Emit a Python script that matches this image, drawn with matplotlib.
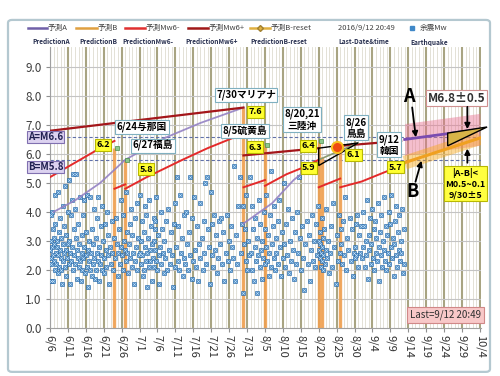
import matplotlib
matplotlib.use('Agg')
import matplotlib.pyplot as plt
from matplotlib.patches import FancyBboxPatch, Polygon
from matplotlib.lines import Line2D
from datetime import date

plt.rcParams['font.family'] = ['Noto Sans CJK JP', 'DejaVu Sans']

# ---------------- data ----------------
tick_labels = ["6/6", "6/11", "6/16", "6/21", "6/26", "7/1", "7/6", "7/11", "7/16", "7/21",
               "7/26", "7/31", "8/5", "8/10", "8/15", "8/20", "8/25", "8/30", "9/4", "9/9",
               "9/14", "9/19", "9/24", "9/29", "10/4"]
y_ticks = [0, 1, 2, 3, 4, 5, 6, 7, 8, 9]

# aftershocks (day-of-month with fraction, Mw)
quakes_jun = [(6.1,2.7),(6.15,3.9),(6.2,2.4),(6.3,1.6),(6.35,3.0),(6.4,2.2),(6.5,4.0),(6.6,2.8),(6.7,3.4),(6.8,2.5),
    (6.9,1.6),(7.0,3.1),(7.1,2.3),(7.2,2.9),(7.3,4.6),(7.4,2.0),(7.5,3.6),(7.6,2.6),(7.8,2.2),(7.9,3.0),
    (8.0,2.8),(8.1,1.9),(8.2,4.7),(8.3,2.5),(8.5,3.3),(8.6,2.1),(8.7,2.7),(8.9,3.8),(9.0,2.4),(9.1,2.0),
    (9.2,3.1),(9.3,1.5),(9.5,2.9),(9.6,4.2),(9.7,2.3),(9.9,2.6),(10.0,3.5),(10.1,2.1),(10.2,4.9),(10.4,2.7),
    (10.5,1.8),(10.6,3.2),(10.8,2.4),(10.9,4.0),(11.0,2.9),(11.2,2.2),(11.3,5.1),(11.4,3.0),(11.5,1.5),(11.7,2.6),
    (11.8,3.9),(12.0,2.3),(12.1,4.4),(12.2,2.8),(12.4,5.3),(12.5,2.0),(12.6,3.4),(12.8,2.5),(13.0,4.1),(13.1,2.2),
    (13.2,5.3),(13.3,3.1),(13.5,2.7),(13.6,1.7),(13.8,2.4),(13.9,3.6),(14.0,2.1),(14.2,2.9),(14.3,4.5),(14.5,2.3),
    (14.6,1.6),(14.8,3.2),(14.9,2.6),(15.0,2.0),(15.2,3.9),(15.3,2.4),(15.5,4.4),(15.6,2.8),(15.8,1.9),(16.0,2.5),
    (16.1,3.3),(16.3,2.1),(16.4,4.6),(16.6,2.7),(16.7,1.4),(16.9,2.3),(17.0,3.0),(17.2,2.0),(17.3,4.5),(17.5,2.6),
    (17.6,1.8),(17.8,3.4),(17.9,2.2),(18.1,2.9),(18.2,4.1),(18.4,2.4),(18.5,1.7),(18.7,3.1),(18.8,2.0),(19.0,2.6),
    (19.1,3.8),(19.3,2.3),(19.5,4.5),(19.6,2.8),(19.8,1.6),(20.0,2.2),(20.1,3.5),(20.3,2.5),(20.4,4.2),(20.6,2.0),
    (20.8,3.0),(21.0,2.4),(21.1,1.9),(21.3,3.6),(21.5,2.7),(21.7,2.1),(21.9,4.0),(22.1,2.5),(22.3,3.2),(22.5,1.5),
    (22.7,2.8),(23.0,2.2),(23.2,3.7),(23.4,2.6),(23.7,2.0),(24.0,3.1),(24.2,2.4),(24.5,3.8),(24.7,2.9),(24.9,1.8),
    (25.1,2.6),(25.3,3.4),(25.5,2.2),(25.7,4.4),(25.9,2.8),(26.1,2.5),(26.3,3.9),(26.5,2.0),(26.7,3.0),(26.9,2.7),
    (27.1,4.7),(27.2,2.3),(27.4,3.3),(27.6,2.6),(27.8,1.9),(28.0,2.9),(28.2,3.6),(28.4,2.4),(28.6,4.1),(28.8,2.1),
    (29.0,3.2),(29.2,2.6),(29.4,1.5),(29.6,3.8),(29.8,2.3),(30.0,2.8),(30.2,4.3),(30.4,2.0),(30.6,3.1),(30.8,2.5)]
quakes_jul = [(1.1,2.6),(1.2,4.6),(1.3,3.0),(1.5,2.2),(1.6,3.7),(1.8,2.5),(1.9,1.8),(2.1,3.3),(2.2,2.0),(2.4,4.2),
    (2.5,2.8),(2.7,2.3),(2.9,3.9),(3.0,1.4),(3.2,2.6),(3.4,3.1),(3.5,2.1),(3.7,4.4),(3.9,2.7),(4.0,2.3),
    (4.2,3.5),(4.4,1.6),(4.5,2.9),(4.7,2.4),(4.9,3.8),(5.0,2.1),(5.1,3.0),(5.2,3.4),(5.3,2.7),(5.4,3.7),
    (5.5,2.3),(5.7,4.5),(5.9,2.0),(6.1,3.2),(6.3,2.5),(6.5,1.5),(6.7,2.8),(6.9,4.0),(7.1,2.2),(7.3,3.4),
    (7.5,2.6),(7.7,1.9),(7.9,3.0),(8.2,2.4),(8.4,3.7),(8.6,2.0),(8.9,4.1),(9.1,2.7),(9.4,2.2),(9.7,3.3),
    (10.0,2.5),(10.3,1.4),(10.5,3.6),(10.8,2.1),(11.0,4.3),(11.2,2.8),(11.4,5.2),(11.6,2.3),(11.8,3.5),(12.1,2.0),
    (12.3,4.6),(12.5,2.6),(12.8,3.1),(13.0,1.8),(13.3,2.4),(13.5,3.9),(13.8,2.2),(14.0,4.0),(14.3,2.9),(14.6,2.0),
    (14.8,3.3),(15.0,5.2),(15.2,2.5),(15.5,1.7),(15.7,3.8),(16.0,2.3),(16.2,4.5),(16.5,2.7),(16.8,2.1),(17.0,3.5),
    (17.3,1.6),(17.5,2.9),(17.8,4.3),(18.0,2.4),(18.3,3.1),(18.6,2.0),(18.9,3.7),(19.1,2.6),(19.4,5.0),(19.6,2.2),
    (19.9,5.2),(20.1,3.4),(20.3,2.8),(20.6,1.5),(20.8,4.7),(21.1,2.5),(21.3,3.6),(21.6,2.1),(21.9,3.9),(22.1,2.7),
    (22.4,3.2),(22.7,1.9),(23.0,2.4),(23.3,3.7),(23.5,2.9),(23.8,3.8),(24.1,2.2),(24.4,3.3),(24.7,1.6),(25.0,2.6),
    (25.3,3.9),(25.6,2.3),(25.9,3.0),(26.2,2.0),(26.5,3.5),(26.8,2.8),(27.1,2.4),(27.4,5.6),(27.7,1.6),(28.0,3.2),
    (28.3,2.2),(28.6,4.2),(28.9,5.2),(29.2,2.6),(29.5,3.6),(29.8,1.2),(30.0,4.2),(30.2,2.9),(30.4,3.4),(30.6,2.3),
    (30.8,4.6),(31.0,2.0),(31.3,3.0),(31.6,2.5),(31.9,5.2)]
quakes_aug = [(1.1,2.6),(1.3,4.2),(1.5,2.0),(1.7,3.4),(1.9,1.6),(2.1,2.8),(2.3,3.8),(2.5,2.3),(2.7,1.2),(2.9,3.1),
    (3.1,2.5),(3.3,4.4),(3.5,2.1),(3.7,3.6),(3.9,2.7),(4.1,1.7),(4.3,3.0),(4.5,2.4),(4.7,4.0),(4.9,2.2),
    (5.1,3.4),(5.2,2.8),(5.4,4.6),(5.6,2.3),(5.8,3.2),(6.0,1.8),(6.2,2.6),(6.4,3.9),(6.6,2.1),(6.8,5.4),
    (7.0,2.9),(7.2,3.5),(7.4,2.4),(7.6,4.2),(7.8,2.0),(8.0,3.1),(8.2,2.6),(8.5,3.7),(8.7,2.2),(9.0,4.4),
    (9.2,2.8),(9.4,1.8),(9.7,3.3),(10.0,2.4),(10.2,5.0),(10.4,2.9),(10.7,2.1),(11.0,3.6),(11.2,2.5),(11.5,4.1),
    (11.8,1.9),(12.0,3.0),(12.3,2.3),(12.6,3.8),(12.9,2.7),(13.1,1.7),(13.4,3.3),(13.7,2.2),(14.0,4.0),(14.2,2.6),
    (14.5,5.2),(14.8,3.1),(15.1,2.0),(15.4,3.5),(15.7,2.4),(16.0,1.3),(16.3,2.9),(16.6,3.7),(16.9,2.2),(17.2,3.2),
    (17.5,1.6),(17.8,2.7),(18.1,3.9),(18.4,2.3),(18.7,3.0),(19.0,2.1),(19.3,3.6),(19.6,2.5),(19.9,4.2),(20.1,2.7),
    (20.2,3.0),(20.3,2.4),(20.4,2.9),(20.5,3.3),(20.6,2.1),(20.7,2.6),(20.8,3.8),(20.9,2.3),(21.0,2.8),(21.1,3.1),
    (21.2,2.0),(21.3,2.5),(21.5,3.4),(21.7,2.2),(21.9,2.7),(22.1,4.1),(22.3,2.4),(22.6,3.0),(22.9,1.9),(23.2,2.6),
    (23.5,3.5),(23.8,2.1),(24.1,4.3),(24.4,2.8),(24.7,1.5),(25.0,3.2),(25.3,2.3),(25.6,3.9),(25.9,2.6),(26.1,2.9),
    (26.3,3.4),(26.5,2.2),(26.8,3.7),(27.1,2.5),(27.4,4.5),(27.7,2.0),(28.0,3.1),(28.3,2.7),(28.6,3.8),(28.9,2.3),
    (29.2,3.4),(29.5,1.8),(29.8,2.6),(30.0,2.4),(30.1,2.8),(30.3,3.6),(30.5,2.5),(30.7,3.9),(30.9,2.1),(31.2,3.2),
    (31.5,2.6),(31.8,3.5)]
quakes_sep = [(1.1,2.4),(1.3,4.0),(1.5,2.8),(1.7,3.5),(1.9,2.1),(2.1,3.0),(2.3,2.5),(2.5,4.4),(2.7,1.7),(2.9,3.2),
    (3.1,2.7),(3.3,3.8),(3.5,2.2),(3.7,2.9),(3.9,4.1),(4.1,2.4),(4.3,3.4),(4.5,2.0),(4.7,3.7),(4.9,2.6),
    (5.1,3.1),(5.3,2.3),(5.5,4.3),(5.7,2.8),(5.9,1.6),(6.1,3.3),(6.3,2.5),(6.5,3.9),(6.7,2.1),(6.9,3.0),
    (7.1,2.7),(7.3,4.5),(7.5,2.3),(7.7,3.5),(7.9,2.0),(8.1,3.2),(8.3,2.6),(8.5,4.0),(8.7,2.2),(8.9,3.6),
    (9.1,2.8),(9.3,4.6),(9.5,2.4),(9.7,3.1),(9.9,1.8),(10.1,2.9),(10.3,3.7),(10.5,2.5),(10.7,4.2),(10.9,2.1),
    (11.1,3.3),(11.3,2.7),(11.5,3.9),(11.7,2.3),(11.9,3.0),(12.1,2.6),(12.3,4.1),(12.5,1.9),(12.7,3.4),(12.8,2.2)]

# main shocks (date, Mw)
main_dates = ["6/24", "6/27", "7/30", "8/5", "8/20", "8/21", "8/26"]
main_mags = [6.2, 5.8, 7.6, 6.3, 6.4, 5.9, 6.1]

# prediction lines (segments of (date, value))
pred_a = [[("6/7",4.0),("6/13",4.4),("6/20",5.0),("6/27",5.8),("7/8",6.55),("7/18",7.07),("7/30",7.6)],
          [("7/30",3.6),("8/7",4.3),("8/13",5.1),("8/20",5.8)],
          [("9/13",6.5),("10/4",6.85)]]
pred_b = [[("9/13",5.7),("10/4",6.55)]]
pred_mw6_minus = [[("6/6",5.2),("6/13",5.7),("6/20",6.2),("6/24",6.45)],
                  [("6/24",4.8),("6/27",4.95)],
                  [("6/27",4.8),("7/3",5.2),("7/13",5.8),("7/20",6.2),("7/27",6.55),("7/30",6.7)],
                  [("7/30",4.85),("8/5",5.1)],
                  [("8/5",4.9),("8/11",5.3),("8/15",5.5),("8/20",5.8)],
                  [("8/20",4.85),("8/26",5.15)],
                  [("8/26",4.85),("9/1",5.05),("9/6",5.3),("9/12",5.6)]]
pred_mw6_plus = [[("6/6",6.8),("7/30",7.6)],
                 [("7/30",5.95),("8/20",6.2)],
                 [("8/26",6.28),("9/12",6.45)]]
pred_b_reset = [[("8/20",5.8),("8/31",6.38)]]
band_a_low = [5.95, 6.3]
band_a_high = [7.05, 7.4]
level_a, level_b = 6.6, 5.8

# ---------------- helpers ----------------
BASE = date(2016, 6, 6)
def dn(s):
    m, d = s.split('/')
    return (date(2016, int(m), int(d)) - BASE).days
def mstart(m):
    return (date(2016, m, 1) - BASE).days - 1

fig = plt.figure(figsize=(5, 3.76), dpi=100)
fig.patch.set_facecolor('white')
fig.add_artist(FancyBboxPatch((0.016, 0.011), 0.964, 0.936, boxstyle='round,pad=0,rounding_size=0.008',
                              transform=fig.transFigure, fc='white', ec='#b4c8d0', lw=1.6, zorder=0))
ax = fig.add_axes([0.1, 0.128, 0.862, 0.747])
ax.set_facecolor('white')
ax.set_xlim(0, 120.3)
ax.set_ylim(0, 9.69)

# grid
for i in range(0, 121):
    if i % 5 == 0:
        ax.axvline(i, color='#a8a482', lw=1.5, zorder=1)
    else:
        ax.axvline(i, color='#dedcd0', lw=0.6, zorder=0.5)
for v in y_ticks[1:]:
    ax.axhline(v, color='#c4c4c4', lw=0.8, zorder=1)

for s in ['top', 'right']:
    ax.spines[s].set_visible(False)
for s in ['left', 'bottom']:
    ax.spines[s].set_color('#a0a0a0')
ax.set_xticks([dn(t) for t in tick_labels])
ax.set_xticklabels(tick_labels, rotation=-90, fontsize=8, color='#303030')
ax.set_yticks(y_ticks)
ax.set_yticklabels([f"{v:.1f}" for v in y_ticks], fontsize=8.5, color='#404040')
ax.tick_params(axis='x', length=3, color='#909090', pad=2)
ax.tick_params(axis='y', length=3, color='#909090', pad=3)

# dashed reference levels
ax.axhline(level_a, color='#6070a8', lw=0.8, ls=(0, (3, 2)), zorder=2)
ax.axhline(level_b, color='#6070a8', lw=0.8, ls=(0, (3, 2)), zorder=2)

# main-shock bars
ax.vlines([dn(d) for d in main_dates], 0, main_mags, color='#f0a050', lw=2.4, alpha=0.9, zorder=2)

# aftershocks
qx, qy = [], []
for m, lst in [(6, quakes_jun), (7, quakes_jul), (8, quakes_aug), (9, quakes_sep)]:
    for t, v in lst:
        qx.append(mstart(m) + t)
        qy.append(v)
ax.plot(qx, qy, 's', ms=3.0, mfc='#3f88c8', mec='#2a6aa8', mew=0.4, ls='none', zorder=3)
ax.plot(qx, qy, 'x', ms=2.0, mec='#cfe2f3', mew=0.4, ls='none', zorder=3.1)

def draw_segments(segs, **kw):
    for seg in segs:
        ax.plot([dn(d) for d, _ in seg], [v for _, v in seg], **kw)

# A band and B glow
xa = [dn(d) for d, _ in pred_a[2]]
ax.fill_between(xa, band_a_low, band_a_high, color='#e87090', alpha=0.45, lw=0, zorder=2)
xb = [dn(d) for d, _ in pred_b[0]]
ax.plot(xb, [v for _, v in pred_b[0]], color='#f8a818', lw=10, alpha=0.45, solid_capstyle='butt', zorder=2.2)
draw_segments(pred_b, color='#f0a020', lw=2.2, zorder=4)

draw_segments(pred_a[:2], color='#9482c4', lw=1.3, alpha=0.9, zorder=4)
draw_segments(pred_a[2:], color='#7a4cb0', lw=2.0, zorder=4)
draw_segments(pred_mw6_minus, color='#e42a2a', lw=1.4, zorder=5)
draw_segments(pred_mw6_plus, color='#a4161a', lw=1.6, zorder=5)
draw_segments(pred_b_reset, color='#8a9a70', lw=1.2, zorder=5)

# black triangle around 8/20 - 8/31
ax.add_patch(Polygon([(dn("8/20"), 6.2), (dn("8/20"), 5.6), (dn("8/31"), 6.38)], closed=True,
                     fill=False, ec='black', lw=1.0, zorder=6))
# prediction wedge
ax.add_patch(Polygon([(dn("9/25"), 6.72), (dn("9/25"), 6.28), (dn("10/6"), 6.93)], closed=True,
                     fc='#d8b448', ec='black', lw=1.0, zorder=6, clip_on=False))
# current marker
ax.plot([dn("8/25")], [6.25], 'o', ms=8, mfc='#f04a10', mec='#f8c020', mew=1.5, zorder=8)
# green main-shock markers
ax.plot([dn(d) + 0.6 for d in ["6/24", "6/27", "8/5", "8/20"]], [6.2, 5.8, 6.3, 6.45], 's', ms=2.5,
        mfc='#8cc88c', mec='#4a8a4a', mew=0.5, ls='none', zorder=7)

def label(x, y, s, fc, ec, fs, color='black', weight='bold', pad=0.15, ls=1.0):
    ax.text(x, y, s, ha='center', va='center', fontsize=fs, fontweight=weight, color=color,
            linespacing=ls, bbox=dict(boxstyle=f'square,pad={pad}', fc=fc, ec=ec, lw=0.8),
            zorder=10, clip_on=False)

YF, YE = '#ffff30', '#b8b800'
WF, WE = 'white', '#7fb0c0'
for (x, y, s) in [(14.8, 6.31, "6.2"), (26.8, 5.48, "5.8"), (57.4, 7.45, "7.6"), (57.3, 6.24, "6.3"),
                  (72.1, 6.28, "6.4"), (72.3, 5.52, "5.9"), (84.7, 5.97, "6.1"), (96.4, 5.55, "5.7")]:
    label(x, y, s, YF, YE, 6.5)
for (x, y, s) in [(25.7, 6.93, "6/24与那国"), (28.8, 6.28, "6/27福島"), (54.7, 8.03, "7/30マリアナ"),
                  (54.5, 6.79, "8/5硫黄島")]:
    label(x, y, s, WF, WE, 7)
label(70.4, 7.18, "8/20,21\n三陸沖", WF, WE, 7, ls=1.15)
label(85.5, 6.9, "8/26\n鳥島", WF, WE, 7, ls=1.15)
label(94.7, 6.31, "9/12\n韓国", WF, WE, 7, ls=1.15)
label(-1.2, 6.58, "A=M6.6", '#dcd2f0', '#8070b0', 7, color='#202050', pad=0.1)
label(-1.2, 5.55, "B=M5.8", '#dcd2f0', '#8070b0', 7, color='#202050', pad=0.1)
label(113.4, 7.93, "M6.8±0.5", 'white', '#d09090', 8.5, color='#303030')
label(115.9, 4.97, "|A-B|<\nM0.5~0.1\n9/30±5", '#ffff40', '#b8b800', 6.5, ls=1.3)
label(110.3, 0.45, "Last=9/12 20:49", '#f8c8c8', '#d08888', 7, color='#303030', weight='normal', pad=0.3)

ax.text(100.3, 7.97, "A", fontsize=13, fontweight='bold', ha='center', va='center', zorder=10)
ax.text(101.1, 4.69, "B", fontsize=13, fontweight='bold', ha='center', va='center', zorder=10)
arw = dict(arrowstyle='-|>', color='black', lw=1.3, mutation_scale=8)
ax.annotate("", xy=(102.2, 6.48), xytext=(101.0, 7.7), arrowprops=arw, zorder=10)
ax.annotate("", xy=(103.9, 5.86), xytext=(101.8, 4.95), arrowprops=arw, zorder=10)
ax.annotate("", xy=(116.5, 6.76), xytext=(116.5, 7.72), arrowprops=arw, zorder=10)
ax.annotate("", xy=(116.5, 6.28), xytext=(116.5, 5.6), arrowprops=arw, zorder=10)

# ---------------- legend (figure coords) ----------------
def fx(px): return px / 500
def fy(py): return 1 - py / 376
leg_items = [(28, 47, '#7060a8', "予測A", None), (76, 97, '#e0a040', "予測B", None),
             (125, 145, '#e03030', "予測Mw6-", None), (188, 208, '#a01818', "予測Mw6+", None),
             (250, 270, '#e0b040', "予測B-reset", 'D')]
for x0, x1, c, t, mk in leg_items:
    fig.add_artist(Line2D([fx(x0), fx(x1)], [fy(28), fy(28)], transform=fig.transFigure, color=c, lw=1.8))
    if mk:
        fig.add_artist(Line2D([fx((x0 + x1) / 2)], [fy(28)], transform=fig.transFigure, marker=mk, ms=3,
                              color=c, mec='#a08030'))
    fig.text(fx(x1 + 1), fy(28), t, fontsize=5.5, va='center', ha='left', color='#404040')
fig.text(fx(338), fy(28), "2016/9/12 20:49", fontsize=5.5, va='center', ha='left', color='#404040')
fig.add_artist(Line2D([fx(412)], [fy(28)], transform=fig.transFigure, marker='s', ms=2.5, color='#3f88c8'))
fig.text(fx(420), fy(28), "余震Mw", fontsize=5.5, va='center', ha='left', color='#404040')
for px, t in [(32, "PredictionA"), (79, "PredictionB"), (122, "PredictionMw6-"), (185, "PredictionMw6+"),
              (250, "PredictionB-reset"), (338, "Last-Date&time"), (410, "Earthquake")]:
    fig.text(fx(px), fy(42), t, fontsize=4.7, fontweight='bold', va='center', ha='left', color='#283050')

fig.savefig('out.png', dpi=100)
